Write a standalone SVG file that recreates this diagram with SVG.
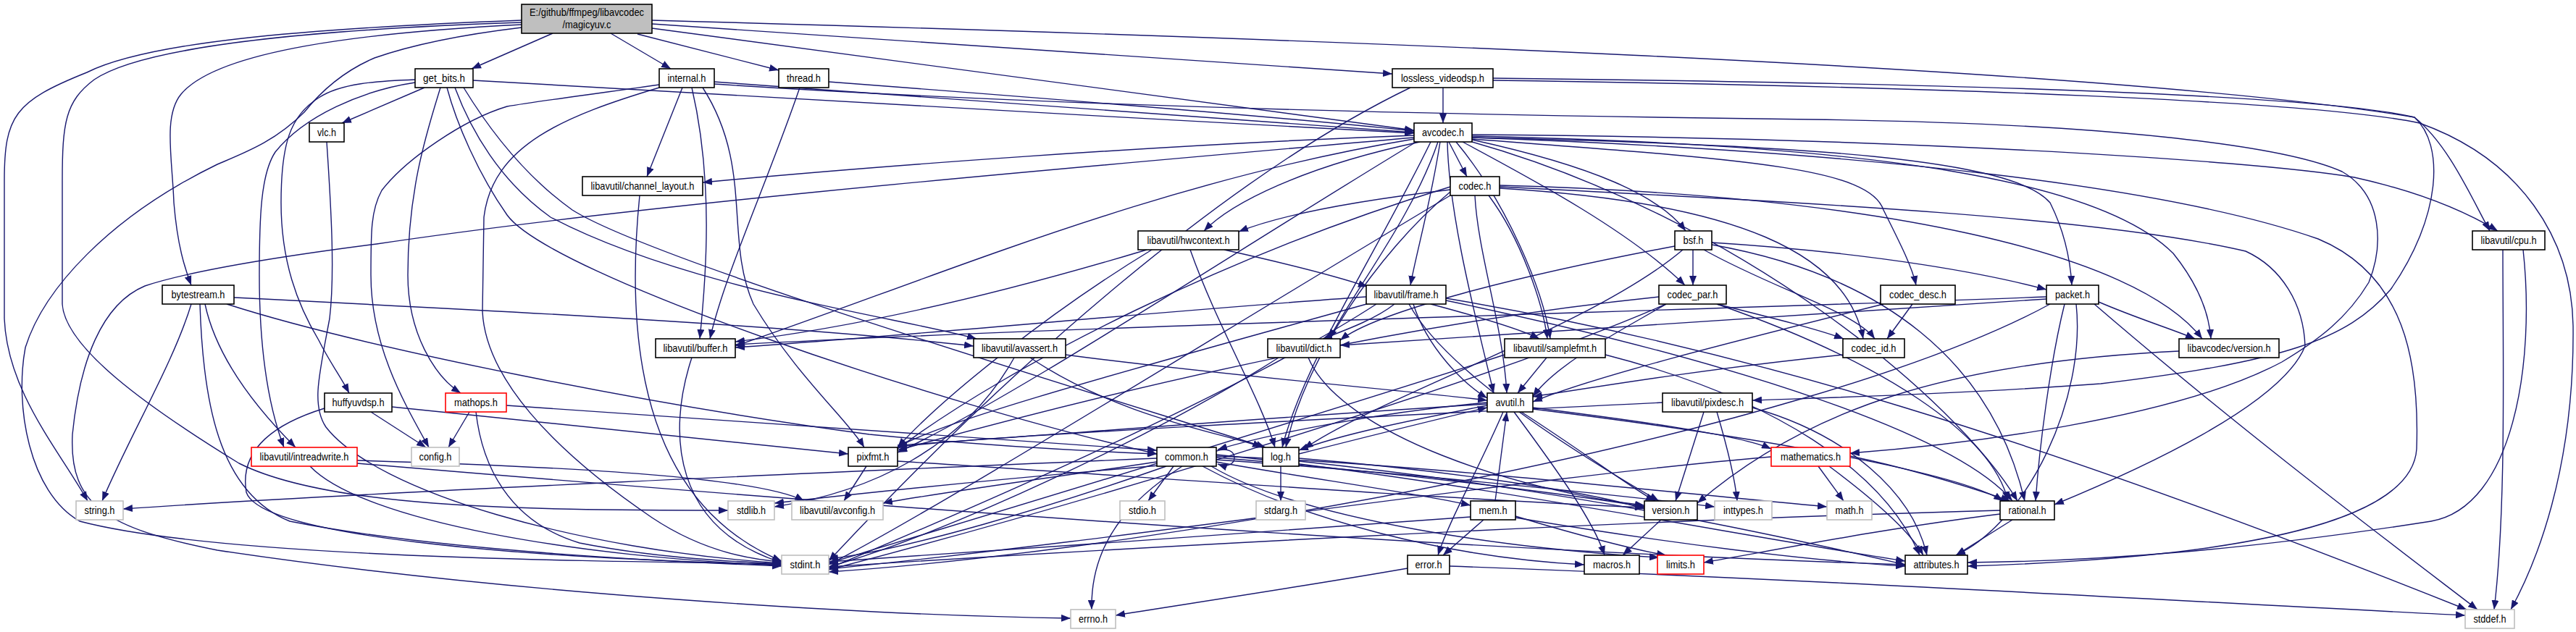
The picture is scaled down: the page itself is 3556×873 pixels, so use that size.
<svg xmlns="http://www.w3.org/2000/svg" width="3556" height="873" viewBox="0 0 3556 873">
<style>
.e{fill:none;stroke:#191970;stroke-width:1.4;marker-end:url(#a)}
.n rect{fill:#fff;stroke:#000;stroke-width:1.6}
.g rect{fill:#fff;stroke:#bfbfbf;stroke-width:1.6}
.r rect{fill:#fff;stroke:#ff0000;stroke-width:1.6}
.m rect{fill:#bfbfbf;stroke:#000;stroke-width:1.6}
text{font-family:"Liberation Sans",Arial,sans-serif;font-size:15px;fill:#000;text-anchor:middle}
</style>
<defs>
<marker id="a" markerWidth="13" markerHeight="10" refX="13" refY="5" orient="auto" markerUnits="userSpaceOnUse"><path d="M0,0 L13,5 L0,10 z" fill="#191970"/></marker>
</defs>
<rect width="3556" height="873" fill="#fff"/>
<g id="edges">
<!-- main -->
<path class="e" d="M763,46 L651,95"/>
<path class="e" d="M843,46 L926,95"/>
<path class="e" d="M880,47 L1075,97"/>
<path class="e" d="M900,33 L1922,102"/>
<path class="e" d="M900,39 L1952,180"/>
<path class="e" d="M900,28 C1700,50 2900,90 3333,162 C3375,200 3370,300 3300,400 C3240,470 3150,500 2900,530 C2700,545 2500,550 2419,553"/>
<path class="e" d="M720,28 C400,40 200,60 120,100 C20,140 6,160 6,250 L6,440 C10,540 80,620 121,692"/>
<path class="e" d="M720,31 C450,40 200,62 130,110 C90,140 86,170 86,250 L86,420 C90,480 200,560 330,640 C450,700 700,705 1005,705"/>
<path class="e" d="M720,34 C500,45 300,70 250,130 C225,160 238,220 240,280 C245,340 255,370 264,394"/>
<path class="e" d="M720,38 C620,50 560,65 517,80 C470,100 440,130 420,155 C380,195 340,210 300,227 C150,300 60,400 35,480 C20,560 40,680 110,720 C300,770 800,775 1079,779"/>
<!-- get_bits -->
<path class="e" d="M586,121 L472,170"/>
<path class="e" d="M653,111 C900,125 1500,160 1952,184"/>
<path class="e" d="M608,121 C590,180 563,260 563,380 C563,460 600,520 636,543"/>
<path class="e" d="M573,110 C520,112 470,115 440,135 C400,160 388,200 388,280 C388,360 410,420 440,470 C455,500 470,520 482,543"/>
<path class="e" d="M573,114 C500,125 420,160 380,210 C360,240 358,300 358,380 C358,480 370,560 392,618"/>
<path class="e" d="M617,121 C630,170 660,240 700,297 C760,380 1300,560 1597,627"/>
<path class="e" d="M640,121 C670,170 720,240 790,290 C900,360 1500,540 1747,618"/>
<path class="e" d="M628,121 C650,180 690,250 760,300 C950,400 1250,440 1348,468"/>
<!-- internal -->
<path class="e" d="M942,121 L893,244"/>
<path class="e" d="M986,113 C1400,140 1700,165 1952,183"/>
<path class="e" d="M955,121 C985,250 975,380 966,468"/>
<path class="e" d="M910,117 C820,130 740,140 700,147 C640,165 560,220 527,263 C512,290 512,320 512,380 C512,480 560,560 592,618"/>
<path class="e" d="M910,121 C780,160 680,200 668,300 L666,430 C670,520 760,620 900,715 C960,755 1020,772 1079,776"/>
<path class="e" d="M970,121 C1040,230 1000,330 1040,420 C1100,520 1170,580 1193,618"/>
<path class="e" d="M986,116 C1500,150 2100,160 2500,165 C2900,170 3150,200 3233,237 C3290,270 3290,340 3270,390 C3240,440 3200,470 3150,500 C3000,580 2700,615 2554,626"/>
<!-- thread -->
<path class="e" d="M1104,121 C1060,250 1000,380 980,468"/>
<path class="e" d="M1144,113 C1500,140 1800,165 1952,181"/>
<!-- lossless -->
<path class="e" d="M1992,121 L1992,170"/>
<path class="e" d="M2061,108 C2700,115 3200,130 3333,162 C3380,200 3410,270 3437,319"/>
<path class="e" d="M2061,111 C2700,120 3200,140 3340,170 C3480,220 3550,330 3552,450 C3554,650 3500,780 3466,842"/>
<path class="e" d="M1947,121 C1700,240 1400,500 1144,775"/>
<!-- avcodec -->
<path class="e" d="M2000,196 L2025,244"/>
<path class="e" d="M1988,196 C1975,280 1955,350 1947,394"/>
<path class="e" d="M2032,193 C2200,230 2290,270 2327,319"/>
<path class="e" d="M2019,196 C2120,250 2250,320 2326,394"/>
<path class="e" d="M2032,192 C2400,220 2580,230 2600,290 C2625,340 2640,370 2645,394"/>
<path class="e" d="M2032,190 C2500,200 2780,220 2830,280 C2850,320 2858,360 2860,394"/>
<path class="e" d="M2032,186 C2600,190 3100,220 3250,245 C3340,265 3400,290 3448,319"/>
<path class="e" d="M2032,188 C2600,200 2900,250 3000,350 C3040,400 3050,440 3052,468"/>
<path class="e" d="M2032,196 C2400,300 2700,550 2785,692"/>
<path class="e" d="M2032,190 C2600,210 3000,260 3200,330 C3320,380 3340,500 3336,620 C3330,720 3100,770 2716,782"/>
<path class="e" d="M1998,196 C2000,300 2040,450 2062,543"/>
<path class="e" d="M2010,196 C2080,280 2130,400 2140,468"/>
<path class="e" d="M1985,196 C1950,300 1870,400 1835,468"/>
<path class="e" d="M1960,196 C1800,230 1700,280 1662,319"/>
<path class="e" d="M1952,187 C1600,200 1200,230 970,252"/>
<path class="e" d="M1952,192 C1600,250 1300,380 1015,478"/>
<path class="e" d="M1955,196 C1700,350 1400,550 1239,625"/>
<path class="e" d="M1975,196 C1900,350 1800,500 1770,618"/>
<path class="e" d="M1952,190 C1500,230 900,280 520,337 C380,355 260,375 200,395 C140,420 110,500 100,600 C95,700 150,730 300,760 C700,820 1200,850 1478,854"/>
<!-- codec -->
<path class="e" d="M2002,262 C1850,280 1760,300 1710,320"/>
<path class="e" d="M2002,258 C1700,350 1400,500 1239,620"/>
<path class="e" d="M2002,265 C1900,350 1800,500 1775,618"/>
<path class="e" d="M2002,270 C1700,450 1300,700 1144,780"/>
<path class="e" d="M2036,270 C2040,350 2075,450 2080,543"/>
<path class="e" d="M2055,270 C2100,330 2130,420 2136,468"/>
<path class="e" d="M2070,260 C2400,280 2550,350 2572,468"/>
<path class="e" d="M2070,256 C2600,270 2950,350 3040,468"/>
<path class="e" d="M2070,258 C2500,280 2900,300 3100,347 C3150,370 3180,420 3182,478 C3150,560 2950,650 2836,697"/>
<!-- hwcontext -->
<path class="e" d="M1690,345 C1780,365 1840,380 1888,396"/>
<path class="e" d="M1583,345 C1400,400 1200,450 1015,472"/>
<path class="e" d="M1590,345 C1450,430 1300,550 1239,618"/>
<path class="e" d="M1643,345 C1680,450 1740,550 1760,618"/>
<!-- bsf -->
<path class="e" d="M2337,345 L2337,394"/>
<path class="e" d="M2312,340 C2100,380 1900,430 1850,470"/>
<path class="e" d="M2323,345 C2200,450 1900,550 1800,620"/>
<path class="e" d="M2352,345 C2450,400 2560,430 2588,468"/>
<path class="e" d="M2363,335 C2600,350 2750,380 2825,400"/>
<path class="e" d="M2363,338 C2600,380 2750,500 2795,692"/>
<!-- cpu -->
<path class="e" d="M3455,345 C3455,500 3460,700 3443,842"/>
<path class="e" d="M3483,345 C3500,500 3470,700 3356,720 C3100,760 2900,775 2716,777"/>
<!-- bytestream -->
<path class="e" d="M264,420 C240,500 180,600 141,692"/>
<path class="e" d="M283,420 C300,500 360,570 408,618"/>
<path class="e" d="M276,420 C280,550 300,680 400,720 C600,760 900,775 1079,782"/>
<path class="e" d="M313,420 C500,480 900,560 1200,600 C1400,620 1550,625 1597,627"/>
<path class="e" d="M323,411 C700,430 1100,450 1344,478"/>
<!-- frame -->
<path class="e" d="M1886,410 C1600,430 1300,460 1015,480"/>
<path class="e" d="M1925,420 C1900,440 1860,455 1826,468"/>
<path class="e" d="M1975,420 C2050,440 2100,455 2125,468"/>
<path class="e" d="M1951,420 C1970,480 2020,530 2053,550"/>
<path class="e" d="M1890,419 C1600,500 1300,580 1239,618"/>
<path class="e" d="M1945,420 C2000,520 2200,640 2290,692"/>
<path class="e" d="M1996,415 C2400,500 2700,600 2778,692"/>
<path class="e" d="M1900,420 C1700,550 1300,720 1144,785"/>
<path class="e" d="M1996,412 C2400,480 2800,600 3405,842"/>
<!-- codec_par -->
<path class="e" d="M2370,420 C2450,440 2510,455 2545,468"/>
<path class="e" d="M2300,420 C2250,450 2150,500 2116,548"/>
<path class="e" d="M2370,420 C2600,500 2750,600 2772,692"/>
<path class="e" d="M2290,410 C1900,450 1500,550 1239,622"/>
<path class="e" d="M2300,420 C2000,550 1400,720 1144,787"/>
<!-- codec_desc -->
<path class="e" d="M2640,420 L2605,468"/>
<path class="e" d="M2600,420 C2400,470 2200,520 2116,555"/>
<!-- packet -->
<path class="e" d="M2897,417 C2950,440 3000,455 3030,468"/>
<path class="e" d="M2825,410 C2300,430 1500,450 1015,476"/>
<path class="e" d="M2825,413 C2400,440 2000,465 1850,477"/>
<path class="e" d="M2850,420 C2830,500 2815,620 2810,692"/>
<path class="e" d="M2866,420 C2880,550 2800,720 2700,767"/>
<path class="e" d="M2891,420 C3100,600 3300,750 3420,842"/>
<path class="e" d="M2830,420 C2500,600 1600,760 1144,790"/>
<!-- buffer, avassert, dict, samplefmt, codec_id, lavc version -->
<path class="e" d="M955,494 C920,600 930,730 1079,777"/>
<path class="e" d="M1400,494 C1330,620 1200,680 1069,700"/>
<path class="e" d="M1422,494 C1550,580 1700,600 1742,618"/>
<path class="e" d="M1471,490 C1700,520 1950,540 2053,553"/>
<path class="e" d="M1806,494 C1850,600 2100,680 2270,698"/>
<path class="e" d="M1765,494 C1600,600 1300,740 1144,783"/>
<path class="e" d="M2135,494 L2095,543"/>
<path class="e" d="M2216,490 C2450,550 2600,650 2650,767"/>
<path class="e" d="M2077,490 C1800,580 1400,700 1144,778"/>
<path class="e" d="M2544,490 C2350,510 2200,535 2116,548"/>
<path class="e" d="M3008,485 C2700,500 2500,560 2343,695"/>
<!-- huffyuvdsp, mathops -->
<path class="e" d="M512,569 L588,618"/>
<path class="e" d="M541,562 C800,590 1000,610 1171,627"/>
<path class="e" d="M448,564 C380,585 330,620 340,680 C360,740 700,770 1079,780"/>
<path class="e" d="M648,569 L619,618"/>
<path class="e" d="M699,560 C1000,580 1400,610 1597,622"/>
<path class="e" d="M657,569 C665,640 700,720 800,750 C900,770 1000,775 1079,779"/>
<!-- avutil -->
<path class="e" d="M2053,560 C1950,580 1850,600 1793,622"/>
<path class="e" d="M2053,558 C1700,580 1400,605 1239,615"/>
<path class="e" d="M2053,556 C1900,570 1750,600 1681,621"/>
<path class="e" d="M2075,569 C2040,650 2000,720 1985,767"/>
<path class="e" d="M2100,569 C2180,620 2260,680 2285,692"/>
<path class="e" d="M2116,563 C2250,580 2400,600 2445,620"/>
<path class="e" d="M2116,565 C2400,600 2700,650 2765,692"/>
<path class="e" d="M2090,569 C2150,650 2200,720 2215,767"/>
<!-- pixdesc -->
<path class="e" d="M2295,556 C1800,580 1400,600 1239,617"/>
<path class="e" d="M2352,569 L2313,692"/>
<path class="e" d="M2370,569 C2385,620 2395,660 2398,692"/>
<path class="e" d="M2419,563 C2550,600 2640,680 2660,767"/>
<!-- common -->
<path class="e" d="M1620,644 L1585,692"/>
<path class="e" d="M1632,644 C1560,690 1505,750 1507,842"/>
<path class="e" d="M1597,633 C1200,650 500,680 170,703"/>
<path class="e" d="M1600,643 C1400,660 1200,680 1069,695"/>
<path class="e" d="M1597,638 C1450,660 1300,680 1219,695"/>
<path class="e" d="M1610,644 C1450,700 1250,760 1144,772"/>
<path class="e" d="M1679,635 C1900,650 2200,680 2367,700"/>
<path class="e" d="M1672,644 C1800,720 2100,760 2290,770"/>
<path class="e" d="M1679,630 C1950,640 2300,680 2522,700"/>
<path class="e" d="M1679,628 C2000,660 2400,740 2630,775"/>
<path class="e" d="M1660,644 C1800,720 2000,770 2187,780"/>
<path class="e" d="M1679,632 C1900,650 2150,680 2270,700"/>
<path class="e" d="M1679,638 C1800,660 1950,680 2030,698"/>
<path class="e" d="M1679,623 C1712,612 1712,652 1681,641"/>
<!-- log -->
<path class="e" d="M1768,644 L1768,692"/>
<path class="e" d="M1793,627 C1900,600 2000,575 2053,563"/>
<path class="e" d="M1793,633 C2000,650 2200,680 2270,703"/>
<path class="e" d="M1793,637 C2200,680 2500,750 2630,780"/>
<!-- mathematics -->
<path class="e" d="M2510,644 L2545,692"/>
<path class="e" d="M2554,630 C2650,650 2740,680 2775,692"/>
<path class="e" d="M2525,644 C2600,700 2640,740 2655,767"/>
<path class="e" d="M2445,631 C2100,660 1600,740 1144,786"/>
<!-- mem -->
<path class="e" d="M2064,692 L2080,569"/>
<path class="e" d="M2048,718 L1992,767"/>
<path class="e" d="M2092,713 C2180,740 2260,760 2300,767"/>
<path class="e" d="M2092,715 C2300,750 2500,775 2630,782"/>
<path class="e" d="M2030,714 C1800,730 1400,760 1144,776"/>
<!-- version, rational, error -->
<path class="e" d="M2293,718 L2240,767"/>
<path class="e" d="M2778,718 L2700,767"/>
<path class="e" d="M2761,710 C2600,730 2450,760 2352,777"/>
<path class="e" d="M2761,705 C2200,720 1500,760 1144,783"/>
<path class="e" d="M1943,785 C1800,810 1600,840 1540,850"/>
<path class="e" d="M2001,782 C2500,800 3000,830 3403,850"/>
<!-- intreadwrite, pixfmt, vlc, channel_layout -->
<path class="e" d="M493,636 C800,645 1050,660 1110,692"/>
<path class="e" d="M493,640 C1200,700 2000,760 2630,780"/>
<path class="e" d="M428,644 C500,720 800,770 1079,781"/>
<path class="e" d="M1196,644 L1165,692"/>
<path class="e" d="M1239,637 C1600,660 2000,690 2270,701"/>
<path class="e" d="M451,196 C458,300 462,380 455,440 C440,520 430,560 450,590 C520,680 800,760 1079,778"/>
<path class="e" d="M883,270 C860,500 900,700 1079,775"/>
</g>
<g id="n_main" class="m"><rect x="720" y="6" width="180" height="40"/><text x="810" y="21.5" textLength="158" lengthAdjust="spacingAndGlyphs">E:/github/ffmpeg/libavcodec</text><text x="810" y="38.5" textLength="67" lengthAdjust="spacingAndGlyphs">/magicyuv.c</text></g>
<g id="n_get_bits" class="n"><rect x="573" y="95" width="80" height="26"/><text x="613" y="113" textLength="58" lengthAdjust="spacingAndGlyphs">get_bits.h</text></g>
<g id="n_internal" class="n"><rect x="910" y="95" width="76" height="26"/><text x="948" y="113" textLength="53" lengthAdjust="spacingAndGlyphs">internal.h</text></g>
<g id="n_thread" class="n"><rect x="1075" y="95" width="69" height="26"/><text x="1109.5" y="113" textLength="47" lengthAdjust="spacingAndGlyphs">thread.h</text></g>
<g id="n_lossless" class="n"><rect x="1922" y="95" width="139" height="26"/><text x="1991.5" y="113" textLength="115" lengthAdjust="spacingAndGlyphs">lossless_videodsp.h</text></g>
<g id="n_vlc" class="n"><rect x="427" y="170" width="48" height="26"/><text x="451" y="188" textLength="26" lengthAdjust="spacingAndGlyphs">vlc.h</text></g>
<g id="n_avcodec" class="n"><rect x="1952" y="170" width="80" height="26"/><text x="1992" y="188" textLength="58" lengthAdjust="spacingAndGlyphs">avcodec.h</text></g>
<g id="n_channel_layout" class="n"><rect x="804" y="244" width="166" height="26"/><text x="887" y="262" textLength="143" lengthAdjust="spacingAndGlyphs">libavutil/channel_layout.h</text></g>
<g id="n_codec" class="n"><rect x="2002" y="244" width="68" height="26"/><text x="2036" y="262" textLength="45" lengthAdjust="spacingAndGlyphs">codec.h</text></g>
<g id="n_hwcontext" class="n"><rect x="1571" y="319" width="139" height="26"/><text x="1640.5" y="337" textLength="114" lengthAdjust="spacingAndGlyphs">libavutil/hwcontext.h</text></g>
<g id="n_bsf" class="n"><rect x="2312" y="319" width="51" height="26"/><text x="2337.5" y="337" textLength="28" lengthAdjust="spacingAndGlyphs">bsf.h</text></g>
<g id="n_cpu" class="n"><rect x="3413" y="319" width="100" height="26"/><text x="3463" y="337" textLength="77" lengthAdjust="spacingAndGlyphs">libavutil/cpu.h</text></g>
<g id="n_bytestream" class="n"><rect x="224" y="394" width="99" height="26"/><text x="273.5" y="412" textLength="74" lengthAdjust="spacingAndGlyphs">bytestream.h</text></g>
<g id="n_frame" class="n"><rect x="1886" y="394" width="110" height="26"/><text x="1941" y="412" textLength="89" lengthAdjust="spacingAndGlyphs">libavutil/frame.h</text></g>
<g id="n_codec_par" class="n"><rect x="2290" y="394" width="93" height="26"/><text x="2336.5" y="412" textLength="70" lengthAdjust="spacingAndGlyphs">codec_par.h</text></g>
<g id="n_codec_desc" class="n"><rect x="2596" y="394" width="103" height="26"/><text x="2647.5" y="412" textLength="79" lengthAdjust="spacingAndGlyphs">codec_desc.h</text></g>
<g id="n_packet" class="n"><rect x="2825" y="394" width="72" height="26"/><text x="2861" y="412" textLength="48" lengthAdjust="spacingAndGlyphs">packet.h</text></g>
<g id="n_buffer" class="n"><rect x="905" y="468" width="110" height="26"/><text x="960" y="486" textLength="89" lengthAdjust="spacingAndGlyphs">libavutil/buffer.h</text></g>
<g id="n_avassert" class="n"><rect x="1344" y="468" width="127" height="26"/><text x="1407.5" y="486" textLength="105" lengthAdjust="spacingAndGlyphs">libavutil/avassert.h</text></g>
<g id="n_dict" class="n"><rect x="1750" y="468" width="100" height="26"/><text x="1800" y="486" textLength="77" lengthAdjust="spacingAndGlyphs">libavutil/dict.h</text></g>
<g id="n_samplefmt" class="n"><rect x="2077" y="468" width="139" height="26"/><text x="2146.5" y="486" textLength="115" lengthAdjust="spacingAndGlyphs">libavutil/samplefmt.h</text></g>
<g id="n_codec_id" class="n"><rect x="2544" y="468" width="85" height="26"/><text x="2586.5" y="486" textLength="62" lengthAdjust="spacingAndGlyphs">codec_id.h</text></g>
<g id="n_lavc_version" class="n"><rect x="3008" y="468" width="138" height="26"/><text x="3077" y="486" textLength="115" lengthAdjust="spacingAndGlyphs">libavcodec/version.h</text></g>
<g id="n_huffyuvdsp" class="n"><rect x="448" y="543" width="93" height="26"/><text x="494.5" y="561" textLength="72" lengthAdjust="spacingAndGlyphs">huffyuvdsp.h</text></g>
<g id="n_mathops" class="r"><rect x="615" y="543" width="84" height="26"/><text x="657" y="561" textLength="60" lengthAdjust="spacingAndGlyphs">mathops.h</text></g>
<g id="n_avutil" class="n"><rect x="2053" y="543" width="63" height="26"/><text x="2084.5" y="561" textLength="40" lengthAdjust="spacingAndGlyphs">avutil.h</text></g>
<g id="n_pixdesc" class="n"><rect x="2295" y="543" width="124" height="26"/><text x="2357" y="561" textLength="100" lengthAdjust="spacingAndGlyphs">libavutil/pixdesc.h</text></g>
<g id="n_intreadwrite" class="r"><rect x="347" y="618" width="146" height="26"/><text x="420" y="636" textLength="123" lengthAdjust="spacingAndGlyphs">libavutil/intreadwrite.h</text></g>
<g id="n_config" class="g"><rect x="568" y="618" width="66" height="26"/><text x="601" y="636" textLength="45" lengthAdjust="spacingAndGlyphs">config.h</text></g>
<g id="n_pixfmt" class="n"><rect x="1171" y="618" width="68" height="26"/><text x="1205" y="636" textLength="45" lengthAdjust="spacingAndGlyphs">pixfmt.h</text></g>
<g id="n_common" class="n"><rect x="1597" y="618" width="82" height="26"/><text x="1638" y="636" textLength="60" lengthAdjust="spacingAndGlyphs">common.h</text></g>
<g id="n_log" class="n"><rect x="1743" y="618" width="50" height="26"/><text x="1768" y="636" textLength="28" lengthAdjust="spacingAndGlyphs">log.h</text></g>
<g id="n_mathematics" class="r"><rect x="2445" y="618" width="109" height="26"/><text x="2499.5" y="636" textLength="83" lengthAdjust="spacingAndGlyphs">mathematics.h</text></g>
<g id="n_string" class="g"><rect x="105" y="692" width="65" height="26"/><text x="137.5" y="710" textLength="42" lengthAdjust="spacingAndGlyphs">string.h</text></g>
<g id="n_stdlib" class="g"><rect x="1005" y="692" width="64" height="26"/><text x="1037" y="710" textLength="40" lengthAdjust="spacingAndGlyphs">stdlib.h</text></g>
<g id="n_avconfig" class="g"><rect x="1093" y="692" width="126" height="26"/><text x="1156" y="710" textLength="104" lengthAdjust="spacingAndGlyphs">libavutil/avconfig.h</text></g>
<g id="n_stdio" class="g"><rect x="1546" y="692" width="62" height="26"/><text x="1577" y="710" textLength="38" lengthAdjust="spacingAndGlyphs">stdio.h</text></g>
<g id="n_stdarg" class="g"><rect x="1734" y="692" width="68" height="26"/><text x="1768" y="710" textLength="46" lengthAdjust="spacingAndGlyphs">stdarg.h</text></g>
<g id="n_mem" class="n"><rect x="2030" y="692" width="62" height="26"/><text x="2061" y="710" textLength="39" lengthAdjust="spacingAndGlyphs">mem.h</text></g>
<g id="n_version" class="n"><rect x="2270" y="692" width="73" height="26"/><text x="2306.5" y="710" textLength="52" lengthAdjust="spacingAndGlyphs">version.h</text></g>
<g id="n_inttypes" class="g"><rect x="2367" y="692" width="79" height="26"/><text x="2406.5" y="710" textLength="55" lengthAdjust="spacingAndGlyphs">inttypes.h</text></g>
<g id="n_math" class="g"><rect x="2522" y="692" width="62" height="26"/><text x="2553" y="710" textLength="39" lengthAdjust="spacingAndGlyphs">math.h</text></g>
<g id="n_rational" class="n"><rect x="2761" y="692" width="75" height="26"/><text x="2798.5" y="710" textLength="52" lengthAdjust="spacingAndGlyphs">rational.h</text></g>
<g id="n_stdint" class="g"><rect x="1079" y="767" width="65" height="26"/><text x="1111.5" y="785" textLength="42" lengthAdjust="spacingAndGlyphs">stdint.h</text></g>
<g id="n_error" class="n"><rect x="1943" y="767" width="58" height="26"/><text x="1972" y="785" textLength="37" lengthAdjust="spacingAndGlyphs">error.h</text></g>
<g id="n_macros" class="n"><rect x="2187" y="767" width="76" height="26"/><text x="2225" y="785" textLength="52" lengthAdjust="spacingAndGlyphs">macros.h</text></g>
<g id="n_limits" class="r"><rect x="2288" y="767" width="64" height="26"/><text x="2320" y="785" textLength="40" lengthAdjust="spacingAndGlyphs">limits.h</text></g>
<g id="n_attributes" class="n"><rect x="2630" y="767" width="86" height="26"/><text x="2673" y="785" textLength="63" lengthAdjust="spacingAndGlyphs">attributes.h</text></g>
<g id="n_errno" class="g"><rect x="1478" y="842" width="62" height="26"/><text x="1509" y="860" textLength="40" lengthAdjust="spacingAndGlyphs">errno.h</text></g>
<g id="n_stddef" class="g"><rect x="3403" y="842" width="68" height="26"/><text x="3437" y="860" textLength="45" lengthAdjust="spacingAndGlyphs">stddef.h</text></g>
</svg>
